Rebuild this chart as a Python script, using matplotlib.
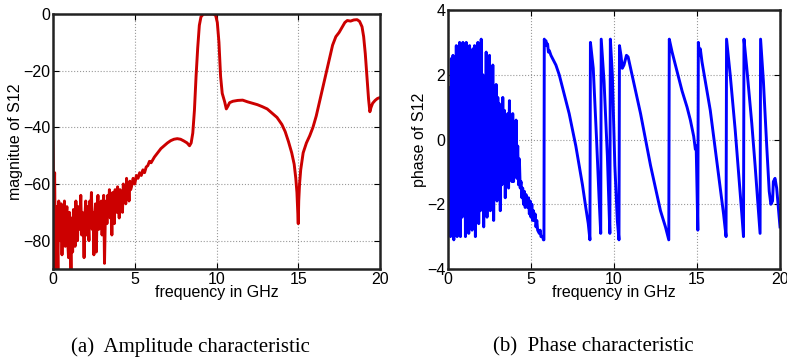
import numpy as np
import matplotlib
matplotlib.use("Agg")
import matplotlib.pyplot as plt

# magnitude of S12 (dB), noisy low band sampled every 0.05 GHz from 0 to 4.8
mag_noise_freq = np.arange(0, 4.81, 0.05)
mag_noise = [-45, -70, -56, -90, -68, -75, -90, -66, -72, -80,
             -67, -85, -70, -76, -66, -82, -72, -68, -80, -86,
             -70, -78, -90, -72, -84, -69, -75, -82, -66, -74,
             -80, -68, -76, -72, -64, -78, -70, -74, -86, -72,
             -66, -78, -68, -74, -80, -66, -72, -63, -76, -70,
             -85, -72, -67, -84, -70, -64, -76, -68, -72, -66,
             -78, -70, -64, -88, -72, -66, -74, -64, -70, -62,
             -72, -66, -78, -63, -68, -74, -62, -66, -70, -61,
             -66, -72, -62, -68, -64, -70, -60, -65, -62, -67,
             -58, -64, -60, -66, -59, -62, -61]
mag_freq = [4.9, 5.0, 5.1, 5.2, 5.3, 5.4, 5.5, 5.6, 5.7, 5.8, 5.9, 6.0, 6.2, 6.4,
            6.6, 6.8, 7.0, 7.2, 7.4, 7.6, 7.8, 8.0, 8.2, 8.35, 8.45, 8.55, 8.65,
            8.75, 8.85, 8.95, 9.05, 9.2, 9.5, 9.8, 9.95, 10.05, 10.15, 10.25,
            10.35, 10.5, 10.6, 10.7, 10.8, 11.0, 11.3, 11.6, 11.9, 12.2, 12.5,
            12.8, 13.1, 13.4, 13.7, 14.0, 14.2, 14.4, 14.6, 14.75, 14.85, 14.92,
            14.97, 15.0, 15.03, 15.08, 15.15, 15.3, 15.5, 15.7, 15.9, 16.1, 16.3,
            16.5, 16.7, 16.9, 17.1, 17.3, 17.5, 17.7, 17.85, 18.0, 18.2, 18.4,
            18.6, 18.75, 18.9, 19.0, 19.1, 19.2, 19.3, 19.38, 19.45, 19.55, 19.7,
            19.85, 20.0]
mag = [-58, -60, -57, -58, -56, -57, -55, -56, -54, -53.5, -52, -52.5, -50.5, -49,
       -47.5, -46.5, -45.5, -44.7, -44.2, -44, -44.2, -44.8, -45.5, -46.5, -45.5,
       -42, -34, -22, -12, -4, -1, 0, 0, 0, -0.5, -3, -10, -22, -28, -31, -33.5,
       -32.5, -31.3, -30.8, -30.5, -30.4, -31, -31.5, -32, -32.7, -33.5, -35,
       -36.5, -39, -41.5, -45, -49, -53, -58, -63, -70, -74, -66, -60, -55, -49,
       -45.5, -43, -40, -36, -31, -26, -21, -16, -11, -8, -6.5, -4.5, -3, -2.3,
       -2.5, -2.1, -2, -2.6, -4.5, -8, -14, -22, -30, -34.5, -33, -31.5, -30.5,
       -29.8, -29.5]

# phase of S12 (rad), noisy low band sampled every 0.05 GHz from 0 to 4.35
ph_noise_freq = np.arange(0, 4.36, 0.05)
ph_noise = [1.5, -2.9, 1.6, -3.0, 2.5, -2.2, 2.6, -3.1, 2.0, -2.6,
            2.9, -3.0, 1.0, -2.0, 3.0, -3.0, 2.2, -2.4, 3.0, -1.5,
            2.8, -3.0, 3.0, -2.0, 1.6, -2.9, 2.9, -1.0, 2.6, -2.8,
            2.8, -1.8, 2.9, -3.0, 2.6, -1.2, 3.0, -2.6, 1.5, -2.2,
            3.1, -1.5, 2.0, -2.7, 1.0, -1.8, 2.7, -2.4, 1.8, -1.0,
            2.6, -2.2, 1.2, -1.6, 2.3, -2.5, 0.8, -1.4, 1.7, -1.9,
            1.3, -0.8, 1.1, -2.2, 0.6, -1.4, 1.3, -0.9, 0.9, -1.8,
            0.4, -1.2, 0.8, -1.5, 1.2, -1.0, 0.5, -1.3, 0.8, -1.3,
            0.3, -1.0, 0.6, -1.2, -0.2, -1.4, -0.6, -1.5]
ph_freq = [4.4, 4.45, 4.5, 4.55, 4.6, 4.65, 4.7, 4.75, 4.8, 4.85, 4.9, 4.95, 5.0,
           5.05, 5.1, 5.15, 5.2, 5.25, 5.3, 5.35, 5.4, 5.5, 5.55, 5.6, 5.7, 5.75,
           5.78, 5.8, 5.85, 5.9, 5.95, 6.0, 6.05, 6.1, 6.2, 6.3, 6.5, 6.7, 6.9,
           7.1, 7.3, 7.5, 7.7, 7.9, 8.1, 8.3, 8.45, 8.55, 8.58, 8.75, 8.95, 9.1,
           9.2, 9.23, 9.4, 9.6, 9.75, 9.78, 9.9, 10.05, 10.2, 10.3, 10.33, 10.42,
           10.5, 10.6, 10.75, 10.85, 11.0, 11.3, 11.6, 11.9, 12.2, 12.5, 12.8,
           13.1, 13.3, 13.33, 13.5, 13.8, 14.1, 14.4, 14.6, 14.8, 14.9, 14.95,
           15.0, 15.05, 15.08, 15.15, 15.2, 15.3, 15.5, 15.8, 16.1, 16.4, 16.6,
           16.75, 16.78, 17.0, 17.3, 17.5, 17.7, 17.8, 17.83, 18.0, 18.3, 18.5,
           18.7, 18.8, 18.83, 19.0, 19.2, 19.35, 19.45, 19.55, 19.6, 19.7, 19.8,
           19.9, 20.0]
ph = [-1.3, -1.8, -1.5, -2.0, -1.6, -2.1, -1.7, -2.0, -2.1, -1.8, -2.3, -1.9, -2.4,
      -2.0, -2.5, -2.2, -2.5, -2.3, -2.7, -2.5, -2.8, -2.9, -2.8, -3.0, -3.0, -3.1,
      -3.1, 3.1, 3.0, 3.05, 2.9, 2.95, 2.7, 2.75, 2.6, 2.5, 2.3, 2.0, 1.6,
      1.2, 0.8, 0.3, -0.2, -0.8, -1.4, -2.1, -2.6, -3.1, 3.0, 2.2, 0.0, -1.8,
      -2.9, 3.1, 1.8, -0.5, -2.9, 3.1, 2.0, -0.8, -2.5, -3.1, 2.9, 2.6,
      2.2, 2.3, 2.6, 2.55, 2.2, 1.5, 0.8, 0.0, -0.8, -1.5, -2.2,
      -2.7, -3.1, 3.1, 2.7, 2.1, 1.5, 1.0, 0.6, 0.1, -0.3, -0.2,
      -1.5, -2.8, 3.0, 2.6, 2.8, 2.4, 1.8, 0.9, -0.3, -1.5, -2.3,
      -3.0, 3.1, 2.0, 0.3, -1.0, -2.3, -3.0, 3.1, 2.2, 0.5, -0.8,
      -2.2, -2.9, 3.1, 1.8, -0.2, -1.6, -2.0, -1.9, -1.3, -1.2, -1.5,
      -2.1, -2.7]

plt.rcParams["font.family"] = ["Liberation Sans", "DejaVu Sans"]
plt.rcParams["font.size"] = 11.5

fig = plt.figure(figsize=(7.87, 3.6), dpi=100)

ax1 = fig.add_axes([53 / 787, 91 / 360, 327 / 787, 255 / 360])
ax1.plot(np.concatenate([mag_noise_freq, mag_freq]), mag_noise + mag,
         color="#cc0000", lw=2.1)
ax1.set_xlim(0, 20)
ax1.set_ylim(-90, 0)
ax1.set_xticks([0, 5, 10, 15, 20])
ax1.set_yticks([-80, -60, -40, -20, 0])
ax1.set_xlabel("frequency in GHz", labelpad=-1)
ax1.set_ylabel("magnitue of S12", labelpad=0)

ax2 = fig.add_axes([448 / 787, 91 / 360, 332 / 787, 259 / 360])
ax2.plot(np.concatenate([ph_noise_freq, ph_freq]), ph_noise + ph,
         color="#0000ff", lw=2.1)
ax2.set_xlim(0, 20)
ax2.set_ylim(-4, 4)
ax2.set_xticks([0, 5, 10, 15, 20])
ax2.set_yticks([-4, -2, 0, 2, 4])
ax2.set_xlabel("frequency in GHz", labelpad=-1)
ax2.set_ylabel("phase of S12", labelpad=0)

for ax in (ax1, ax2):
    ax.grid(True, color="#999999", linestyle=":", linewidth=0.8)
    ax.tick_params(direction="in", top=True, right=True, length=4, pad=2,
                   labelsize=11.5)
    for s in ax.spines.values():
        s.set_linewidth(1.8)
        s.set_color("#222222")

fig.text(190 / 787, 1 - 347 / 360, "(a)  Amplitude characteristic", ha="center",
         va="center", fontsize=15, family=["Liberation Serif", "DejaVu Serif"])
fig.text(593 / 787, 1 - 347 / 360, "(b)  Phase characteristic", ha="center",
         va="center", fontsize=15, family=["Liberation Serif", "DejaVu Serif"])

fig.savefig("out.png", dpi=100)
